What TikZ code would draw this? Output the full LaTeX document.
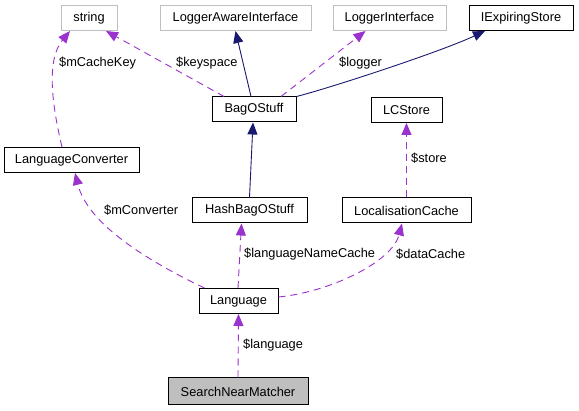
\documentclass[tikz,border=0pt]{standalone}
\usepackage{fontspec}
\setmainfont{Liberation Sans}
\usetikzlibrary{arrows.meta}
\definecolor{edgep}{HTML}{9A32CD}
\definecolor{edgeb}{HTML}{191970}
\definecolor{grayb}{HTML}{BFBFBF}
\tikzset{
  box/.style={draw=black, line width=1pt, inner sep=0pt, minimum height=25pt, text=black},
  graybox/.style={draw=grayb, line width=1pt, inner sep=0pt, minimum height=25pt, text=black},
  usedash/.style={draw=edgep, line width=0.9pt, dash pattern=on 7pt off 5pt, -{Triangle[length=12pt,width=10pt,fill=edgep]}},
  inherit/.style={draw=edgeb, line width=0.9pt, -{Triangle[length=12pt,width=10pt,fill=edgeb]}},
  lbl/.style={anchor=west, inner sep=0pt, text=black}
}
\begin{document}
\begin{tikzpicture}[x=1pt,y=-1pt,font=\fontsize{12.8}{15}\selectfont]
\useasboundingbox (0,0) rectangle (579,411);
\fill[white] (0,0) rectangle (579,411);
% nodes
\node[graybox, minimum width=56pt] (str) at (89,18) {string};
\node[graybox, minimum width=151pt] (lai) at (235.5,18) {LoggerAwareInterface};
\node[graybox, minimum width=113pt] (li) at (389.5,18) {LoggerInterface};
\node[box, minimum width=104pt] (ies) at (521,18) {IExpiringStore};
\node[box, minimum width=84pt] (bag) at (254,109.5) {BagOStuff};
\node[box, minimum width=71pt] (lcs) at (406.5,110) {LCStore};
\node[box, minimum width=135pt] (lc) at (71.5,160) {LanguageConverter};
\node[box, minimum width=115pt] (hb) at (249.5,210.5) {HashBagOStuff};
\node[box, minimum width=129pt] (loc) at (406.5,210.5) {LocalisationCache};
\node[box, minimum width=79pt] (lang) at (238.5,301) {Language};
\node[box, minimum width=140pt, minimum height=27pt, fill=grayb] (snm) at (238,391.5) {SearchNearMatcher};
% edges
\draw[usedash] ([xshift=-9.5pt]lc.north) .. controls (52,105) and (46,60) .. ([xshift=-19pt]str.south);
\draw[usedash] ([xshift=-30pt]bag.north) -- ([xshift=17pt]str.south);
\draw[inherit] ([xshift=-3pt]bag.north) -- (lai.south);
\draw[usedash] ([xshift=27pt]bag.north) -- ([xshift=-24pt]li.south);
\draw[inherit] (bag.north east) .. controls (330,88) and (440,52) .. ([xshift=-36pt]ies.south);
\draw[inherit] (hb.north) -- ([xshift=-1pt]bag.south);
\draw[usedash] (loc.north) -- (lcs.south);
\draw[usedash] ([xshift=-34pt]lang.north) .. controls (150,262) and (88,225) .. ([xshift=3.5pt]lc.south);
\draw[usedash] ([xshift=-0.5pt]lang.north) -- ([xshift=-8pt]hb.south);
\draw[usedash] ([yshift=4pt]lang.east) .. controls (330,292) and (392,262) .. ([xshift=-4.5pt]loc.south);
\draw[usedash] (snm.north) -- (lang.south);
% labels
\node[lbl] (l1) at (59,63) {\$mCacheKey};
\node[lbl] (l2) at (176,63) {\$keyspace};
\node[lbl] (l3) at (339,63) {\$logger};
\node[lbl] (l4) at (411,158) {\$store};
\node[lbl] (l5) at (104,210) {\$mConverter};
\node[lbl] (l6) at (244,254.5) {\$languageNameCache};
\node[lbl] (l7) at (396,254.5) {\$dataCache};
\node[lbl] (l8) at (243,345.5) {\$language};
\end{tikzpicture}
\end{document}
